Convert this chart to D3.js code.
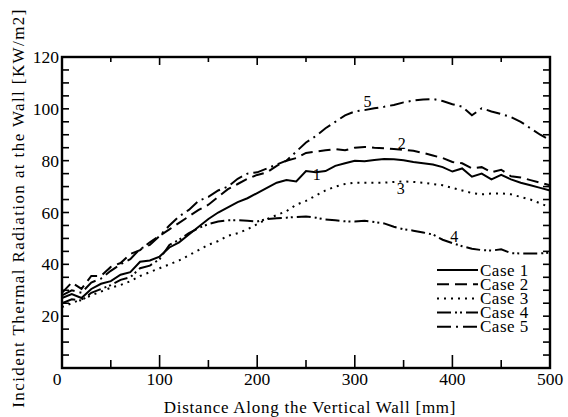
<!DOCTYPE html>
<html>
<head>
<meta charset="utf-8">
<script src="https://cdn.jsdelivr.net/npm/d3@7"></script>
<style>
  body { margin: 0; background: #fff; }
  svg { display: block; font-family: "Liberation Serif", "Times New Roman", serif; }
</style>
</head>
<body>
<div id="chart"></div>
<script>
// distance along the wall [mm]
const distance = d3.range(0, 501, 10);

const case1 = [27, 28.5, 27, 30.5, 32.5, 33.5, 36, 37, 41, 41.5, 43, 46.5, 48.5, 51.5, 54.5, 57.5, 60, 62, 64, 65.5,
  67.5, 69.5, 71.5, 72.5, 72, 76, 75.5, 76, 78, 79, 80, 79.8, 80.3, 80.6, 80.5, 80.2, 79.5, 79, 78.5, 77.5,
  75.8, 77, 73.8, 75, 72.8, 74.5, 72.8, 71.5, 70.5, 69.5, 68.5];
const case2 = [29, 33, 30.5, 35.5, 35.5, 39, 40.5, 44, 45.5, 48.5, 51, 53.5, 56, 58.5, 61, 63, 66, 69, 71, 73,
  74.5, 75.5, 78, 80, 81, 83, 83.5, 84, 84.5, 84, 85, 85.3, 85, 84.8, 84.5, 84.2, 83.8, 83, 82, 81,
  79.5, 79, 77, 77.5, 75.5, 76.5, 74, 73.5, 72.5, 71.5, 70.5];
const case3 = [23.5, 25, 26.5, 28, 29.5, 31, 32, 33.5, 35.5, 37, 38.5, 40, 41.5, 43.5, 45.5, 47.5, 49, 51, 52, 53.5,
  55.5, 57.5, 59, 60.5, 63, 64.5, 66.5, 68.5, 70, 71, 71.5, 71.5, 71.5, 71.5, 71.8, 72, 71.8, 71.5, 71, 70.5,
  69.5, 68.5, 67.5, 67, 67.3, 67.4, 67, 66, 65, 63.5, 62];
const case4 = [25, 26.5, 26, 29, 30.5, 32, 34, 35, 38.5, 39.5, 42, 47.5, 49.5, 52, 54, 55.5, 56.5, 57, 57, 56.8,
  56.5, 57.5, 57.8, 58, 58.3, 58.5, 58, 57.3, 57, 56.6, 56.5, 56.8, 56.3, 55.8, 54.5, 53.5, 53, 52.3, 51.5, 49.5,
  48.2, 47, 46, 45.5, 45.3, 45.8, 44.3, 44.2, 44.2, 44.2, 44.5];
const case5 = [28, 30, 29, 33, 34.5, 37.5, 40, 42, 46, 47.5, 51, 55, 58.5, 61, 64.5, 66, 68.5, 70, 73, 75,
  75.5, 77, 78.5, 80, 83.5, 87, 89.5, 92.5, 95, 97.5, 99, 99.5, 100.2, 100.8, 101.5, 102.5, 103.2, 103.6, 103.8, 103,
  101.8, 100.8, 97.5, 100.2, 99, 98, 96.8, 95, 92.5, 90, 88];

const caseNames = ["Case 1", "Case 2", "Case 3", "Case 4", "Case 5"];
const caseValues = [case1, case2, case3, case4, case5];
const caseDash = ["none", "12,6", "2,5", "14,4,2,3,2,4", "14,5,2,5"];

// curve numbers placed next to the lines: [x mm, value]
const curveTags = [
  {tag: "1", x: 261, y: 74.5},
  {tag: "2", x: 348, y: 86.5},
  {tag: "3", x: 347, y: 69},
  {tag: "4", x: 402, y: 50.5},
  {tag: "5", x: 313, y: 102.5}
];

// the corner "0" is shared by both axes
const xTicks = [100, 200, 300, 400, 500];
const yTicks = [20, 40, 60, 80, 100, 120];

const W = 568, H = 417;
const margin = {top: 57, right: 18, bottom: 49, left: 62};

const svg = d3.select("#chart").append("svg")
  .attr("width", W)
  .attr("height", H);

const x = d3.scaleLinear().domain([0, 500]).range([margin.left, W - margin.right]);
const y = d3.scaleLinear().domain([0, 120]).range([H - margin.bottom, margin.top]);

// minor ticks (inward) on all four sides
const g = svg.append("g").attr("stroke", "#000");
const xMinor = d3.range(50, 500, 50);
const yMinor = d3.range(5, 120, 5);

g.selectAll(".xb").data(xMinor).join("line")
  .attr("x1", d => x(d)).attr("x2", d => x(d))
  .attr("y1", y(0)).attr("y2", d => y(0) - (d % 100 == 0 ? 13 : 8))
  .attr("stroke-width", 1.6);
g.selectAll(".xt").data(xMinor).join("line")
  .attr("x1", d => x(d)).attr("x2", d => x(d))
  .attr("y1", y(120)).attr("y2", d => y(120) + (d % 100 == 0 ? 8 : 5))
  .attr("stroke-width", 1.6);
g.selectAll(".yl").data(yMinor).join("line")
  .attr("x1", x(0)).attr("x2", x(0) + 7)
  .attr("y1", d => y(d)).attr("y2", d => y(d))
  .attr("stroke-width", 1.6);
g.selectAll(".yr").data(yMinor).join("line")
  .attr("x1", x(500)).attr("x2", x(500) - 7)
  .attr("y1", d => y(d)).attr("y2", d => y(d))
  .attr("stroke-width", 1.6);

// frame
svg.append("rect")
  .attr("x", x(0)).attr("y", y(120))
  .attr("width", x(500) - x(0)).attr("height", y(0) - y(120))
  .attr("fill", "none").attr("stroke", "#000").attr("stroke-width", 2.4);

// tick labels
svg.append("g").selectAll("text").data(xTicks).join("text")
  .attr("x", d => x(d)).attr("y", y(0) + 17)
  .attr("text-anchor", "middle")
  .attr("font-size", 17.5)
  .text(d => d);
svg.append("g").selectAll("text").data(yTicks).join("text")
  .attr("x", x(0) - 3).attr("y", d => y(d) + 6)
  .attr("text-anchor", "end")
  .attr("font-size", 17.5)
  .text(d => d);
svg.append("text")
  .attr("x", x(0) - 5).attr("y", y(0) + 17)
  .attr("text-anchor", "middle")
  .attr("font-size", 17.5)
  .text("0");

// axis titles
svg.append("text")
  .attr("x", (x(0) + x(500)) / 2 + 4).attr("y", 413)
  .attr("text-anchor", "middle")
  .attr("font-size", 17)
  .attr("letter-spacing", 0.75)
  .text("Distance Along the Vertical Wall [mm]");
svg.append("text")
  .attr("transform", `translate(24, 208) rotate(-90)`)
  .attr("text-anchor", "middle")
  .attr("font-size", 17)
  .attr("letter-spacing", 1.4)
  .text("Incident Thermal Radiation at the Wall [KW/m2]");

// the curves
const line = d3.line()
  .x((d, i) => x(distance[i]))
  .y(d => y(d));

svg.append("g").selectAll("path").data(caseValues).join("path")
  .attr("d", d => line(d))
  .attr("fill", "none")
  .attr("stroke", "#000")
  .attr("stroke-width", 2)
  .attr("stroke-dasharray", (d, i) => caseDash[i]);

// curve numbers
svg.append("g").selectAll("text").data(curveTags).join("text")
  .attr("x", d => x(d.x)).attr("y", d => y(d.y) + 5)
  .attr("text-anchor", "middle")
  .attr("font-size", 16)
  .text(d => d.tag);

// legend
const legend = svg.append("g").selectAll("g").data(caseNames).join("g")
  .attr("transform", (d, i) => `translate(437, ${270 + i * 14.2})`);
legend.append("line")
  .attr("x1", 0).attr("x2", 41)
  .attr("y1", 0).attr("y2", 0)
  .attr("stroke", "#000").attr("stroke-width", 2)
  .attr("stroke-dasharray", (d, i) => caseDash[i]);
legend.append("text")
  .attr("x", 43).attr("y", 5.5)
  .attr("font-size", 17)
  .attr("letter-spacing", 0.5)
  .text(d => d);
</script>
</body>
</html>
